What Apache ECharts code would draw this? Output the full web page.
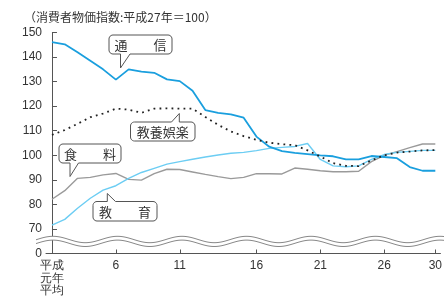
<!DOCTYPE html>
<html><head><meta charset="utf-8">
<script src="https://cdn.jsdelivr.net/npm/echarts@6/dist/echarts.min.js"></script>
<style>html,body{margin:0;padding:0;background:#fff;}#c{width:445px;height:299px;}</style>
</head><body><div id="c"></div>
<script>
// index 0 = 平成元年平均 ... index 30 = 平成30年 (31 points in the source chart)
const tickPositions = [0, 5, 10, 16, 21, 26, 30];
const tickLabels = ['平成\n元年\n平均', '6', '11', '16', '21', '26', '30'];
const yTicks = [60, 70, 80, 90, 100, 110, 120, 130, 140, 150];

const tsushin = [146.1, 145.2, 142.0, 138.5, 135.0, 130.8, 135.0, 134.1, 133.6, 130.9, 130.2, 126.3, 118.4, 117.3, 116.7, 115.3, 107.6, 103.5, 101.7, 101.0, 100.5, 100.0, 99.6, 98.3, 98.3, 99.7, 99.3, 98.8, 95.2, 93.7, 93.7];
const kyoyo = [108.3, 110.3, 112.8, 115.5, 117.0, 119.0, 118.6, 117.3, 119.0, 119.1, 119.0, 119.0, 115.6, 112.4, 109.7, 107.8, 106.3, 105.1, 104.5, 104.1, 102.0, 99.5, 96.8, 95.7, 95.6, 97.9, 100.0, 101.1, 101.5, 102.0, 102.1];
const shokuryo = [82.1, 85.6, 90.6, 91.0, 92.0, 92.6, 90.2, 89.9, 92.5, 94.3, 94.2, 93.2, 92.2, 91.3, 90.5, 91.0, 92.5, 92.5, 92.4, 94.8, 94.3, 93.7, 93.3, 93.3, 93.5, 97.4, 100.0, 101.5, 103.1, 104.6, 104.6];
const kyoiku = [71.6, 73.9, 78.4, 82.5, 85.8, 87.6, 90.6, 93.0, 94.7, 96.4, 97.4, 98.4, 99.3, 100.1, 100.8, 101.2, 101.9, 102.8, 103.2, 103.6, 104.8, 98.3, 95.7, 95.3, 95.7, 98.3, 100.3, 101.2, 101.6, 102.0, 102.0];

const toXY = arr => arr.map((v, i) => [i, v]);
const CJK = '"Noto Sans CJK JP"';
const NUM = '"Liberation Sans", Arial';

function calloutPoints(x, y, w, h, r, t) {
  const pts = [];
  const arc = (cx, cy, a0, a1) => { for (let k = 0; k <= 6; k++) { const a = a0 + (a1 - a0) * k / 6; pts.push([cx + r * Math.cos(a), cy + r * Math.sin(a)]); } };
  arc(x + r, y + r, Math.PI, 1.5 * Math.PI);
  if (t.side === 'top') pts.push([t.a, y], [t.tx, t.ty], [t.b, y]);
  arc(x + w - r, y + r, 1.5 * Math.PI, 2 * Math.PI);
  arc(x + w - r, y + h - r, 0, 0.5 * Math.PI);
  if (t.side === 'bottom') pts.push([t.b, y + h], [t.tx, t.ty], [t.a, y + h]);
  arc(x + r, y + h - r, 0.5 * Math.PI, Math.PI);
  return pts;
}
function callout(x, y, w, h, t, text) {
  return [
    { type: 'polygon', z: 100, shape: { points: calloutPoints(x, y, w, h, 4, t) }, style: { fill: '#fff', stroke: '#555', lineWidth: 1 } },
    { type: 'text', z: 101, x: x + w / 2, y: y + h / 2 + 0.5, style: { text: text, font: '13px ' + CJK, fill: '#333', textAlign: 'center', textVerticalAlign: 'middle' } }
  ];
}
// axis-break wave decoration
function wave(cy, amp) {
  const pts = [];
  for (let x = 36; x <= 445; x += 2) pts.push([x, cy - amp * Math.cos((x - 53) / 64.5 * 2 * Math.PI)]);
  return pts;
}
const w1 = wave(239.5, 3.2), w2 = wave(243.3, 3.2);
const band = w1.concat(w2.slice().reverse());

const chart = echarts.init(document.getElementById('c'));
chart.setOption({
  animation: false,
  backgroundColor: '#fff',
  title: { text: '（消費者物価指数:平成27年＝100）', left: 19, top: 6, textStyle: { fontSize: 12, fontWeight: 'normal', color: '#333', fontFamily: CJK } },
  grid: { left: 46, right: 3.3, top: 32.5, bottom: 45.5 },
  xAxis: {
    type: 'value', min: -0.468, max: 30.4,
    axisLine: { lineStyle: { color: '#555', width: 1 } },
    axisTick: { show: true, inside: true, length: 4, customValues: tickPositions, lineStyle: { color: '#555' } },
    axisLabel: { customValues: tickPositions, margin: 6, color: '#333', fontSize: 12, fontFamily: NUM, lineHeight: 12.5,
      formatter: v => { const k = tickPositions.indexOf(Math.round(v)); return k >= 0 ? tickLabels[k] : ''; } },
    splitLine: { show: false }
  },
  yAxis: {
    type: 'value', min: 60, max: 150, interval: 10,
    axisLine: { show: true, lineStyle: { color: '#555', width: 1 } },
    axisTick: { show: true, inside: true, length: 5, lineStyle: { color: '#555' } },
    axisLabel: { margin: 4, color: '#333', fontSize: 12, fontFamily: NUM, formatter: v => v === 60 ? '0' : String(v) },
    splitLine: { show: false }
  },
  series: [
    { name: '食料', type: 'line', data: toXY(shokuryo), symbol: 'none', lineStyle: { color: '#9a9a9a', width: 1.4 } },
    { name: '教育', type: 'line', data: toXY(kyoiku), symbol: 'none', lineStyle: { color: '#6ccdf3', width: 1.4 } },
    { name: '通信', type: 'line', data: toXY(tsushin), symbol: 'none', lineStyle: { color: '#1a9fde', width: 1.8 } },
    { name: '教養娯楽', type: 'line', data: toXY(kyoyo), symbol: 'none', lineStyle: { color: '#222', width: 1.8, type: [1.8, 4.2], cap: 'butt' } }
  ],
  graphic: [
    { type: 'polygon', z: 90, shape: { points: band }, style: { fill: '#fff', stroke: null } },
    { type: 'polyline', z: 91, shape: { points: w1 }, style: { stroke: '#888', lineWidth: 1, fill: null } },
    { type: 'polyline', z: 91, shape: { points: w2 }, style: { stroke: '#888', lineWidth: 1, fill: null } },
    ...callout(109, 35, 63, 19, { side: 'bottom', a: 120.5, b: 130, tx: 120.5, ty: 68 }, '通　　信'),
    ...callout(130.5, 122, 64.5, 19, { side: 'top', a: 171.5, b: 179.3, tx: 179.3, ty: 113.5 }, '教養娯楽'),
    ...callout(59, 144, 62, 19, { side: 'bottom', a: 70, b: 78.5, tx: 70, ty: 176.5 }, '食　　料'),
    ...callout(93, 201.5, 64, 19.5, { side: 'top', a: 107.3, b: 115.5, tx: 107.3, ty: 193.5 }, '教　　育')
  ]
});
</script>
</body></html>
